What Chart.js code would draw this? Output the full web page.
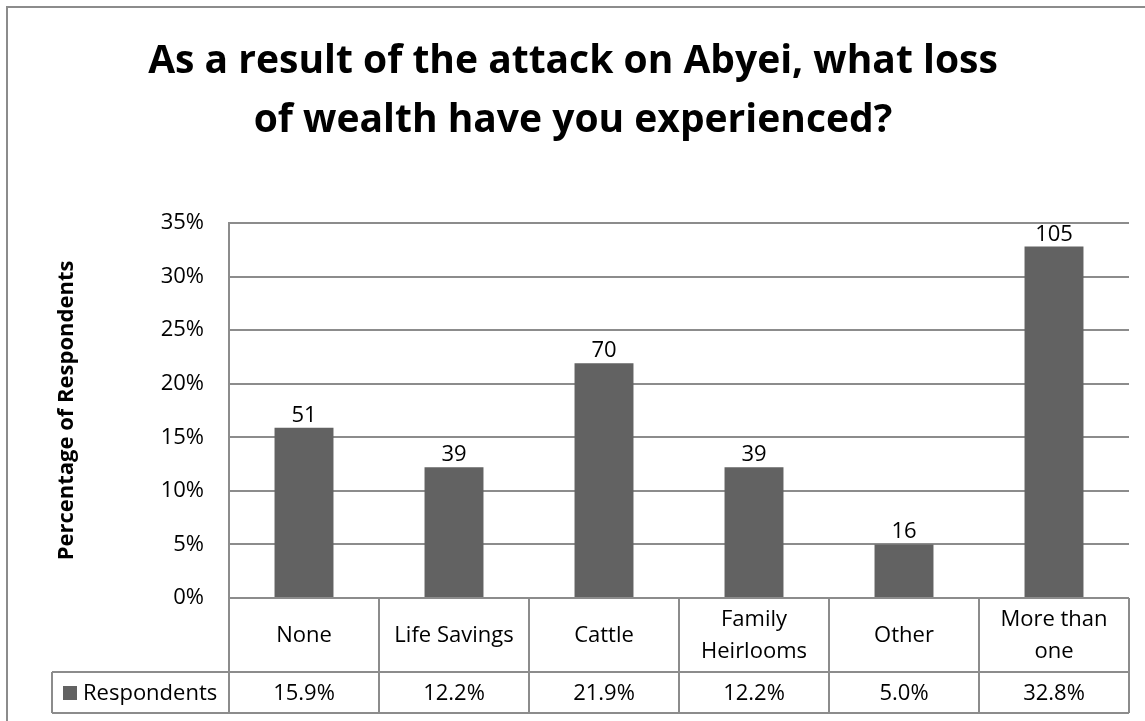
<!DOCTYPE html>
<html lang="en">
<head>
<meta charset="UTF-8">
<title>Loss of wealth after the attack on Abyei</title>
<script src="https://cdn.jsdelivr.net/npm/chart.js"></script>
<style>
  html, body { margin:0; padding:0; background:#fff; }
  canvas { display:block; }
</style>
</head>
<body>
<canvas id="chart" width="1145" height="721"></canvas>
<script>
const categories = ['None', 'Life Savings', 'Cattle', ['Family', 'Heirlooms'], 'Other', ['More than', 'one']];
const percents = [15.9, 12.2, 21.9, 12.2, 5.0, 32.8];
const counts = [51, 39, 70, 39, 16, 105];
const seriesName = 'Respondents';
const titleLines = ['As a result of the attack on Abyei, what loss', 'of wealth have you experienced?'];
const yTitle = 'Percentage of Respondents';

const FONT = '"Open Sans", sans-serif';
const LINE = '#8c8c8c';
const BAR = '#626262';

// white page, outer frame and the two-line heading
const frame = {
  id: 'frame',
  beforeDraw(chart) {
    const ctx = chart.ctx;
    ctx.save();
    ctx.fillStyle = '#fff';
    ctx.fillRect(0, 0, chart.width, chart.height);
    ctx.strokeStyle = LINE; ctx.lineWidth = 2;
    ctx.beginPath(); ctx.moveTo(7, chart.height); ctx.lineTo(7, 7); ctx.lineTo(chart.width, 7); ctx.stroke();
    ctx.fillStyle = '#000';
    ctx.font = 'bold 39px ' + FONT;
    ctx.textAlign = 'center'; ctx.textBaseline = 'alphabetic';
    titleLines.forEach((t, i) => ctx.fillText(t, 573, 73 + i * 59));
    ctx.restore();
  }
};

// counts written above each bar
const barCounts = {
  id: 'barCounts',
  afterDatasetsDraw(chart) {
    const ctx = chart.ctx;
    ctx.save();
    ctx.fillStyle = '#000';
    ctx.font = '22px ' + FONT;
    ctx.textAlign = 'center'; ctx.textBaseline = 'alphabetic';
    chart.getDatasetMeta(0).data.forEach((bar, i) => ctx.fillText(counts[i], bar.x, bar.y - 6));
    ctx.restore();
  }
};

// data table under the plot: category names, then the percentages with a legend key
const dataTable = {
  id: 'dataTable',
  afterDraw(chart) {
    const ctx = chart.ctx, x = chart.scales.x, area = chart.chartArea;
    const band = x.getPixelForValue(1) - x.getPixelForValue(0);
    const top = area.bottom, mid = 672, bot = 713, keyLeft = 52;
    ctx.save();
    ctx.strokeStyle = LINE; ctx.lineWidth = 2;
    ctx.beginPath();
    ctx.moveTo(keyLeft, mid); ctx.lineTo(area.right, mid);
    ctx.moveTo(keyLeft, bot); ctx.lineTo(area.right, bot);
    ctx.moveTo(keyLeft, mid); ctx.lineTo(keyLeft, bot);
    ctx.moveTo(area.left, top); ctx.lineTo(area.left, bot);
    categories.forEach((c, i) => {
      const r = Math.round(x.getPixelForValue(i) + band / 2);
      ctx.moveTo(r, top); ctx.lineTo(r, bot);
    });
    ctx.stroke();

    ctx.fillStyle = '#000';
    ctx.font = '22px ' + FONT;
    ctx.textAlign = 'center'; ctx.textBaseline = 'middle';
    const rowC = (top + mid) / 2 + 1, valC = (mid + bot) / 2 + 1;
    categories.forEach((c, i) => {
      const cx = x.getPixelForValue(i);
      const lines = Array.isArray(c) ? c : [c];
      lines.forEach((l, j) => ctx.fillText(l, cx, rowC + (j - (lines.length - 1) / 2) * 32));
      ctx.fillText(percents[i].toFixed(1) + '%', cx, valC);
    });

    ctx.fillStyle = BAR;
    ctx.fillRect(63, 686, 14, 14);
    ctx.fillStyle = '#000';
    ctx.textAlign = 'left';
    ctx.fillText(seriesName, 83, valC);
    ctx.restore();
  }
};

new Chart(document.getElementById('chart'), {
  type: 'bar',
  data: {
    labels: categories,
    datasets: [{
      label: seriesName,
      data: percents,
      backgroundColor: BAR,
      borderWidth: 0,
      barPercentage: 0.393,
      categoryPercentage: 1
    }]
  },
  options: {
    responsive: false,
    animation: false,
    layout: { padding: { top: 223, bottom: 123, left: 0, right: 16 } },
    plugins: { legend: { display: false }, title: { display: false }, tooltip: { enabled: false } },
    scales: {
      x: { display: false },
      y: {
        min: 0, max: 35,
        ticks: { stepSize: 5, padding: 25, color: '#000', font: { family: FONT, size: 22 }, callback: v => v + '%' },
        grid: { color: LINE, lineWidth: 2, drawTicks: false },
        border: { color: LINE, width: 2 },
        title: { display: true, text: yTitle, color: '#000', font: { family: FONT, size: 22, weight: 'bold' }, padding: { top: 54, bottom: 0 } },
        afterFit: s => { s.width = 229; }
      }
    }
  },
  plugins: [frame, barCounts, dataTable]
});
</script>
</body>
</html>
